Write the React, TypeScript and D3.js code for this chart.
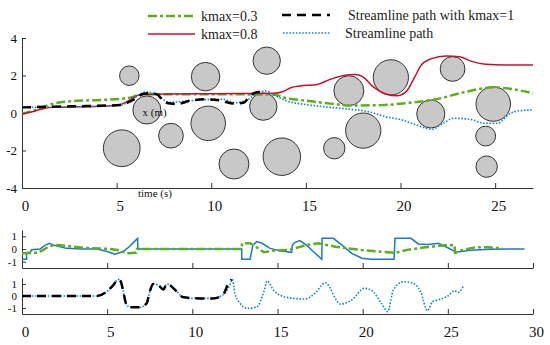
import React, { useEffect, useRef } from "react";
import * as d3 from "d3";

type Pt = [number, number];

// obstacles (top panel): time position, lateral position, radius (m)
const obstacleT = [5.67, 6.6, 5.27, 7.87, 9.7, 9.84, 11.2, 12.93, 12.75, 13.73, 16.5, 17.27, 18.03, 19.49, 21.6, 22.75, 24.9, 24.5, 24.55];
const obstacleY = [1.99, 0.16, -1.88, -1.21, 1.94, -0.55, -2.72, 2.79, 0.34, -2.33, -1.88, 1.19, -0.94, 1.9, -0.05, 2.35, 0.48, -1.23, -2.86];
const obstacleR = [0.52, 0.75, 0.98, 0.66, 0.76, 0.92, 0.8, 0.73, 0.73, 1.0, 0.57, 0.8, 0.94, 0.94, 0.75, 0.66, 0.92, 0.53, 0.57];

// top panel paths [t, x]
const pathK03: Pt[] = [[0, -0.05], [0.85, 0.2], [1.6, 0.48], [2.7, 0.64], [4.3, 0.7], [5.7, 0.82], [6.2, 0.96], [7, 1.0], [10, 1.0], [13.3, 0.98], [14, 0.78], [15, 0.66], [16.3, 0.5], [17.5, 0.4], [19, 0.42], [20.5, 0.55], [21.8, 0.72], [23.5, 1.14], [24.9, 1.37], [25.6, 1.32], [27, 1.05]];
const pathK08: Pt[] = [[0, -0.05], [0.5, 0.05], [1, 0.2], [1.6, 0.3], [3, 0.33], [4.3, 0.36], [5.2, 0.45], [5.7, 0.7], [6.2, 0.96], [7, 1.0], [10, 1.03], [13.3, 1.05], [13.8, 1.15], [14.2, 1.35], [14.7, 1.44], [15.6, 1.52], [16.3, 1.8], [17.15, 2.03], [17.6, 2.05], [18, 1.94], [18.5, 1.45], [19.27, 1.0], [19.8, 0.92], [20.3, 1.14], [20.76, 1.94], [21.1, 2.56], [21.64, 2.9], [22.4, 3.04], [23.1, 3.0], [23.8, 2.74], [24.5, 2.6], [25.5, 2.56], [27, 2.56]];
const pathK1: Pt[] = [[0, 0.3], [1.6, 0.34], [3.4, 0.37], [5.2, 0.43], [5.87, 0.7], [6.4, 1.02], [6.7, 1.05], [7.1, 1.0], [7.6, 0.55], [8.2, 0.48], [8.9, 0.66], [9.75, 0.73], [10.5, 0.66], [11.2, 0.5], [11.7, 0.55], [12.1, 0.96], [12.5, 1.12], [12.8, 1.1]];
const pathStream: Pt[] = [[0, 0.3], [1.6, 0.32], [3.4, 0.35], [5.2, 0.42], [5.87, 0.75], [6.5, 1.12], [7.0, 1.05], [7.8, 0.57], [8.7, 0.64], [9.5, 0.7], [10.6, 0.73], [11.3, 0.55], [11.9, 0.7], [12.57, 1.14], [12.9, 1.17], [13.3, 0.96], [14, 0.64], [15, 0.45], [16.3, 0.3], [17.3, 0.2], [18.4, 0.05], [19.2, -0.2], [20, -0.35], [20.85, -0.64], [21.64, -0.87], [22.25, -0.55], [22.8, -0.28], [23.7, -0.34], [24.4, -0.55], [25.1, -0.55], [25.8, -0.02], [26.3, 0.12], [27, 0.16]];

// middle panel [t, value]
const ctrlK08: Pt[] = [[0, -0.8], [0.27, -0.8], [0.27, -0.28], [0.5, -0.28], [0.55, -0.05], [1.06, 0], [1.3, 0.25], [1.6, 0.45], [2.0, 0.25], [2.6, 0.05], [3.5, 0], [4.4, 0], [5.0, -0.2], [5.46, -0.42], [5.95, -0.2], [6.34, 0.24], [6.6, 0.6], [6.79, 0.84], [6.8, 0], [12.9, 0], [12.9, -0.81], [13.39, -0.81], [13.55, 0.3], [13.78, 0.58], [14.1, 0.45], [14.56, 0.05], [15.2, -0.15], [15.83, -0.26], [15.87, 0.3], [16.0, 0.5], [16.32, 0.66], [16.7, 0.3], [17.1, -0.2], [17.6, -0.81], [17.62, 0.84], [18.28, 0.84], [18.77, 0.32], [19.36, -0.34], [19.95, -0.73], [20.5, -0.81], [21.84, -0.81], [21.9, 0.84], [22.84, 0.84], [23.27, 0.4], [23.86, 0.35], [24.44, 0.45], [25.03, 0.08], [25.5, -0.26], [26.3, -0.1], [27.5, -0.02], [29.5, 0]];
const ctrlK03: Pt[] = [[0, -0.34], [0.9, -0.29], [1.2, -0.1], [1.64, 0.24], [2.1, 0.32], [3.6, 0.1], [4.6, 0.03], [5.2, 0], [5.7, -0.1], [6.15, -0.34], [6.7, -0.3], [6.75, 0], [12.9, 0], [12.92, 0.45], [13.39, 0.45], [13.7, 0.2], [14.0, -0.08], [14.2, -0.26], [14.75, -0.13], [15.7, -0.08], [16.7, 0.32], [17.4, 0.45], [18.4, 0.18], [19.95, -0.08], [21.5, -0.26], [21.9, -0.3], [22.7, -0.05], [23.7, 0.13], [25.0, 0.32], [25.4, 0.3], [25.42, -0.3], [25.8, -0.1], [26.6, 0.13], [27.4, 0.13], [28.2, 0.05]];

// bottom panel [t, value]
const ctrlK1: Pt[] = [[0, 0], [4.38, 0], [4.97, 0.36], [5.36, 0.9], [5.65, 1.39], [5.8, 1.2], [5.95, 0.36], [6.1, -0.6], [6.34, -0.94], [6.93, -0.94], [7.32, -0.6], [7.5, 0.36], [7.7, 1.0], [8.0, 0.9], [8.3, 0.55], [8.5, 1.0], [9.1, 0.36], [9.47, -0.11], [10.45, -0.2], [11.2, -0.2], [11.8, 0.1], [12.1, 1.0], [12.3, 1.39]];
const ctrlStream: Pt[] = [[0, 0], [4.38, 0], [4.97, 0.36], [5.36, 0.9], [5.65, 1.39], [5.8, 1.2], [5.95, 0.36], [6.1, -0.6], [6.34, -0.94], [6.93, -0.94], [7.32, -0.6], [7.5, 0.36], [7.7, 1.0], [8.0, 0.9], [8.3, 0.55], [8.5, 1.0], [9.1, 0.36], [9.47, -0.11], [10.45, -0.2], [11.2, -0.2], [11.8, 0.1], [12.2, 0.9], [12.35, 1.4], [12.5, 0.22], [12.8, -0.6], [13.2, -1.03], [13.8, -0.89], [14.2, 0.36], [14.4, 1.25], [14.76, 0.5], [15.5, -0.1], [16.6, -0.25], [17.2, 0.22], [17.8, 1.1], [18.7, -0.67], [19.36, -0.33], [20.1, 0.64], [20.5, 0.5], [21.1, -0.6], [21.47, -1.3], [21.8, 0.5], [22.4, 1.19], [22.9, 1.1], [23.4, 0.36], [23.8, -1.22], [24.1, -0.47], [24.4, -0.33], [25.0, 0], [25.4, 0.44], [25.6, 0.3], [25.9, 0.78]];

const topXTicks = [0, 5, 10, 15, 20, 25];
const topYTicks = [-4, -2, 0, 2, 4];
const lowXTicks = [0, 5, 10, 15, 20, 25, 30];
const lowYTicks = [-1, 0, 1];

const legendLabels = ["kmax=0.3", "kmax=0.8", "Streamline path with kmax=1", "Streamline path"];

const FONT = "'Liberation Serif', 'Times New Roman', 'DejaVu Serif', serif";
const GREEN = "#5cae1e";
const RED = "#c8102e";
const BLUE_DOT = "#1188dd";
const BLUE = "#1a78c8";
const AXIS = "#333";

const xTop = d3.scaleLinear().domain([0, 27]).range([22, 533]);
const yTop = d3.scaleLinear().domain([-4, 4]).range([188, 38]);
const xLow = d3.scaleLinear().domain([0, 30]).range([22, 533]);
const yMid = d3.scaleLinear().domain([-1.5, 1.5]).range([268, 230]);
const yBot = d3.scaleLinear().domain([-1.5, 1.5]).range([314, 278]);

const plain = (d: any) => String(d);

const topXAxis = d3.axisBottom(xTop).tickValues(topXTicks).tickFormat(plain).tickSizeInner(-5).tickSizeOuter(0).tickPadding(12);
const topYAxis = d3.axisLeft(yTop).tickValues(topYTicks).tickFormat(plain).tickSizeInner(-4).tickSizeOuter(0).tickPadding(5);
const midXAxis = d3.axisBottom(xLow).tickValues(lowXTicks).tickSizeInner(-5).tickSizeOuter(0).tickFormat(() => "");
const midYAxis = d3.axisLeft(yMid).tickValues(lowYTicks).tickFormat(plain).tickSizeInner(-4).tickSizeOuter(0).tickPadding(5);
const botXAxis = d3.axisBottom(xLow).tickValues(lowXTicks).tickFormat(plain).tickSizeInner(-5).tickSizeOuter(0).tickPadding(12);
const botYAxis = d3.axisLeft(yBot).tickValues(lowYTicks).tickFormat(plain).tickSizeInner(-4).tickSizeOuter(0).tickPadding(5);

const Axis = ({ axis, transform, fontSize, dx = 0 }: any) => {
  const ref = useRef<SVGGElement>(null);
  useEffect(() => {
    if (!ref.current) return;
    const g = d3.select(ref.current);
    g.call(axis);
    g.attr("font-family", FONT).attr("font-size", fontSize);
    g.select(".domain").attr("stroke", AXIS);
    g.selectAll(".tick line").attr("stroke", AXIS);
    g.selectAll(".tick text")
      .attr("fill", "#111")
      .attr("font-family", FONT)
      .attr("font-size", fontSize)
      .attr("dx", dx);
  }, [axis]);
  return <g ref={ref} transform={transform} />;
};

const lineTop = d3.line<Pt>().x((d) => xTop(d[0])).y((d) => yTop(d[1])).curve(d3.curveMonotoneX);
const lineMid = d3.line<Pt>().x((d) => xLow(d[0])).y((d) => yMid(d[1]));
const lineBot = d3.line<Pt>().x((d) => xLow(d[0])).y((d) => yBot(d[1])).curve(d3.curveMonotoneX);

const styles = {
  green: { stroke: GREEN, strokeWidth: 2.5, strokeDasharray: "9,3,3,3" },
  red: { stroke: RED, strokeWidth: 1.5 },
  black: { stroke: "#000", strokeWidth: 2.5, strokeDasharray: "9,6" },
  dotted: { stroke: BLUE_DOT, strokeWidth: 1.6, strokeDasharray: "1.6,1.6" },
  blue: { stroke: BLUE, strokeWidth: 1.5 },
};

const App = () => {
  const rScale = yTop(0) - yTop(1);
  return (
    <svg width={550} height={345} style={{ position: "absolute", left: 0, top: 0, background: "#fff" }}>
      {/* legend */}
      <g fontFamily={FONT} fontSize={14} fill="#222">
        <line x1={148} x2={195} y1={16} y2={16} fill="none" {...styles.green} />
        <text x={201} y={21}>{legendLabels[0]}</text>
        <line x1={148} x2={195} y1={34} y2={34} fill="none" {...styles.red} />
        <text x={201} y={39}>{legendLabels[1]}</text>
        <line x1={282} x2={330} y1={15} y2={15} fill="none" {...styles.black} />
        <text x={348} y={20}>{legendLabels[2]}</text>
        <line x1={283} x2={330} y1={33} y2={33} fill="none" {...styles.dotted} />
        <text x={345} y={38}>{legendLabels[3]}</text>
      </g>

      {/* top panel */}
      <Axis axis={topXAxis} transform={`translate(0,${yTop(-4)})`} fontSize={15} dx={3} />
      <Axis axis={topYAxis} transform={`translate(${xTop(0)},0)`} fontSize={13} />
      {obstacleT.map((t, i) => (
        <circle key={`obs-${i}`} cx={xTop(t)} cy={yTop(obstacleY[i])} r={obstacleR[i] * rScale} fill="#c8c8c8" stroke="#333" strokeWidth={1} />
      ))}
      <text x={142.5} y={116} fontFamily={FONT} fontSize={11} fill="#111">x (m)</text>
      <text x={138} y={197} fontFamily={FONT} fontSize={11} fill="#111">time (s)</text>
      <path d={lineTop(pathK03) || ""} fill="none" {...styles.green} />
      <path d={lineTop(pathK08) || ""} fill="none" {...styles.red} />
      <path d={lineTop(pathStream) || ""} fill="none" {...styles.dotted} />
      <path d={lineTop(pathK1) || ""} fill="none" {...styles.black} />

      {/* middle panel */}
      <Axis axis={midXAxis} transform={`translate(0,${yMid(-1.5)})`} fontSize={15} />
      <Axis axis={midYAxis} transform={`translate(${xLow(0)},0)`} fontSize={11} />
      <path d={lineMid(ctrlK08) || ""} fill="none" {...styles.blue} />
      <path d={lineMid(ctrlK03) || ""} fill="none" {...styles.green} />

      {/* bottom panel */}
      <Axis axis={botXAxis} transform={`translate(0,${yBot(-1.5)})`} fontSize={15} dx={3} />
      <Axis axis={botYAxis} transform={`translate(${xLow(0)},0)`} fontSize={11} />
      <path d={lineBot(ctrlStream) || ""} fill="none" {...styles.dotted} />
      <path d={lineBot(ctrlK1) || ""} fill="none" {...styles.black} />
    </svg>
  );
};

export default App;
